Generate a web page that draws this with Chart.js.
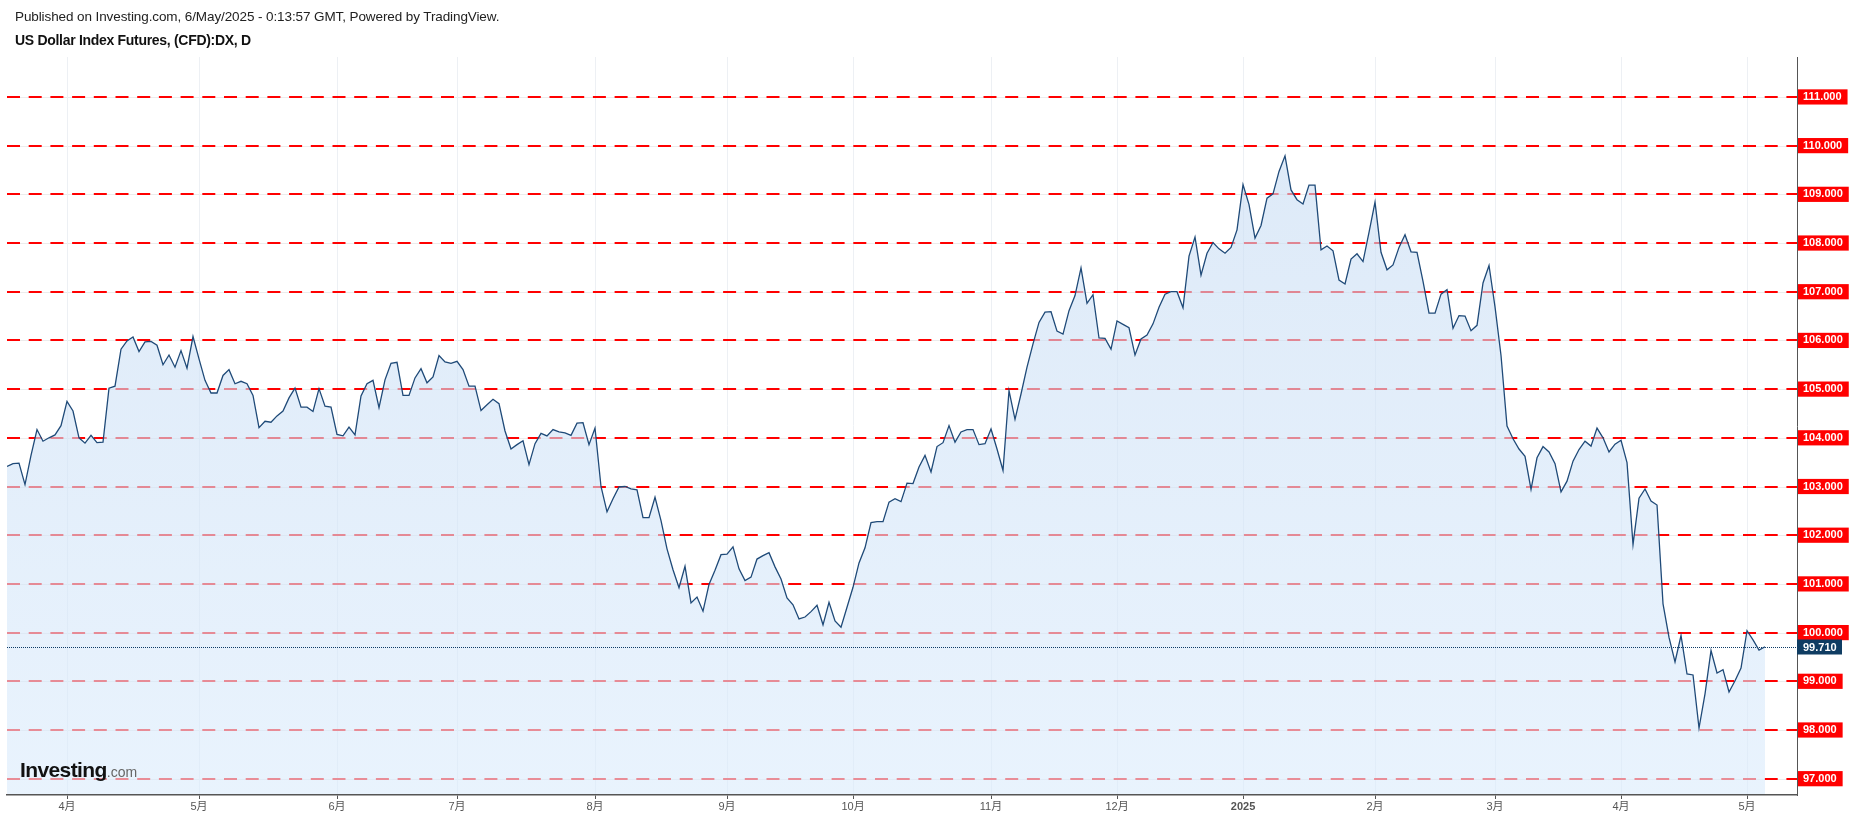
<!DOCTYPE html>
<html lang="ja">
<head>
<meta charset="UTF-8">
<title>US Dollar Index Futures, (CFD):DX, D</title>
<script src="https://cdn.jsdelivr.net/npm/chart.js"></script>
<style>
  html, body { margin: 0; padding: 0; background: #fff; }
  #wrap { position: relative; width: 1855px; height: 819px; overflow: hidden; }
  #wrap canvas { position: absolute; left: 0; top: 0; }
  .pub { position: absolute; left: 15px; top: 9px; font: 13.5px "Liberation Sans", Arial, sans-serif; letter-spacing: -0.1px; color: #222; white-space: nowrap; }
  .ttl { position: absolute; left: 15px; top: 32px; font: bold 14px "Liberation Sans", Arial, sans-serif; letter-spacing: -0.3px; color: #111; white-space: nowrap; }
  .logo { position: absolute; left: 20px; top: 758px; font: bold 21px "Liberation Sans", Arial, sans-serif; color: #111; letter-spacing: -0.6px; white-space: nowrap; }
  .logo span { font-weight: normal; font-size: 14px; color: #666; letter-spacing: 0; }
</style>
</head>
<body>
<div id="wrap">
  <canvas id="dxChart" width="1855" height="819"></canvas>
  <div class="pub">Published on Investing.com, 6/May/2025 - 0:13:57 GMT, Powered by TradingView.</div>
  <div class="ttl">US Dollar Index Futures, (CFD):DX, D</div>
  <div class="logo">Investing<span>.com</span></div>
</div>
<script>
// month labels and the bar index where each month starts
const monthLabels = ['4月','5月','6月','7月','8月','9月','10月','11月','12月','2025','2月','3月','4月','5月'];
const monthStart = [10, 32, 55, 75, 98, 120, 141, 164, 185, 206, 228, 248, 269, 290];
const yTicks = [97, 98, 99, 100, 101, 102, 103, 104, 105, 106, 107, 108, 109, 110, 111];
const lastPrice = 99.71;

// daily closes, mid-March 2024 .. 6 May 2025
const closes = [
  103.41,103.47,103.48,103.04,103.64,104.17,103.93,104.00,104.06,104.25,
  // Apr
  104.75,104.55,104.00,103.89,104.05,103.90,103.91,105.02,105.06,105.82,105.99,106.07,105.77,105.97,105.98,105.90,105.50,105.70,105.45,105.79,105.43,106.08,
  // May
  105.62,105.18,104.92,104.92,105.28,105.40,105.11,105.16,105.11,104.87,104.21,104.34,104.32,104.45,104.55,104.82,105.02,104.63,104.63,104.54,105.01,104.65,104.63,
  // Jun
  104.07,104.04,104.22,104.06,104.86,105.11,105.18,104.62,105.19,105.53,105.55,104.87,104.87,105.23,105.42,105.13,105.25,105.69,105.56,105.53,
  // Jul
  105.57,105.40,105.06,105.06,104.56,104.68,104.79,104.70,104.14,103.77,103.86,103.94,103.45,103.88,104.09,104.04,104.17,104.12,104.10,104.05,104.30,104.31,103.86,
  // Aug
  104.20,103.00,102.48,102.75,102.99,103.00,102.95,102.93,102.36,102.36,102.78,102.30,101.72,101.29,100.92,101.36,100.61,100.73,100.44,100.99,101.28,101.60,
  // Sep
  101.61,101.76,101.31,101.07,101.14,101.51,101.58,101.64,101.35,101.10,100.71,100.57,100.28,100.32,100.43,100.56,100.16,100.62,100.24,100.11,100.52,
  // Oct
  100.93,101.43,101.74,102.26,102.28,102.28,102.68,102.75,102.69,103.07,103.06,103.40,103.64,103.30,103.82,103.90,104.25,103.91,104.12,104.17,104.17,103.86,103.88,
  // Nov
  104.18,103.77,103.33,104.97,104.38,104.90,105.45,105.93,106.37,106.58,106.59,106.19,106.13,106.61,106.92,107.49,106.76,106.94,106.05,106.04,105.82,
  // Dec
  106.40,106.33,106.26,105.70,106.03,106.11,106.34,106.68,106.95,107.00,107.00,106.67,107.73,108.12,107.34,107.79,108.01,107.88,107.79,107.91,108.27,
  // Jan 2025
  109.20,108.79,108.10,108.36,108.92,109.01,109.47,109.79,109.09,108.89,108.80,109.19,109.19,107.86,107.94,107.84,107.24,107.16,107.67,107.78,107.62,108.22,
  // Feb
  108.84,107.81,107.45,107.55,107.91,108.17,107.82,107.81,107.21,106.56,106.56,106.95,107.04,106.25,106.51,106.50,106.20,106.31,107.18,107.54,
  // Mar
  106.69,105.69,104.24,103.98,103.77,103.62,102.94,103.59,103.82,103.71,103.47,102.89,103.11,103.52,103.76,103.93,103.83,104.20,104.00,103.71,103.87,
  // Apr
  103.95,103.49,101.81,102.76,102.95,102.70,102.62,100.59,99.90,99.40,99.94,99.15,99.13,98.04,98.74,99.63,99.17,99.24,98.78,99.01,99.27,
  // May
  100.04,99.85,99.64,99.71
];

Chart.defaults.font.family = '"Liberation Sans", Arial, "Noto Sans CJK SC", sans-serif';

// faint solid lines behind the red dashes
const softLines = {
  id: 'softLines',
  beforeDraw(chart) {
    const {ctx, chartArea: a, scales: {y}} = chart;
    ctx.save();
    ctx.strokeStyle = '#ececec';
    ctx.lineWidth = 1;
    yTicks.forEach(v => {
      const p = Math.round(y.getPixelForValue(v)) + 0.5;
      ctx.beginPath(); ctx.moveTo(a.left, p); ctx.lineTo(a.right, p); ctx.stroke();
    });
    ctx.restore();
  }
};

// last price line + label
const lastMark = {
  id: 'lastMark',
  afterDraw(chart) {
    const {ctx, chartArea: a, scales: {y}} = chart;
    const p = Math.round(y.getPixelForValue(lastPrice)) + 0.5;
    ctx.save();
    ctx.strokeStyle = '#0d3b66';
    ctx.lineWidth = 1;
    ctx.setLineDash([1, 1]);
    ctx.beginPath(); ctx.moveTo(a.left, p); ctx.lineTo(a.right, p); ctx.stroke();
    ctx.setLineDash([]);
    ctx.fillStyle = '#0f3c62';
    ctx.fillRect(a.right, p - 8, 45, 15);
    ctx.fillStyle = '#fff';
    ctx.font = 'bold 11px "Liberation Sans", Arial';
    ctx.textBaseline = 'middle';
    ctx.fillText(lastPrice.toFixed(3), a.right + 6, p);
    ctx.restore();
  }
};

new Chart('dxChart', {
  type: 'line',
  data: {
    datasets: [{
      data: closes.map((v, i) => ({x: i, y: v})),
      borderColor: '#1f4a78',
      borderWidth: 1.3,
      pointRadius: 0,
      tension: 0,
      fill: 'start',
      backgroundColor: ctx => {
        const area = ctx.chart.chartArea;
        if (!area) return 'rgba(205,225,246,0.6)';
        const g = ctx.chart.ctx.createLinearGradient(0, area.top, 0, area.bottom);
        g.addColorStop(0, 'rgba(197,218,242,0.6)');
        g.addColorStop(1, 'rgba(218,235,252,0.6)');
        return g;
      }
    }]
  },
  options: {
    responsive: false,
    animation: false,
    devicePixelRatio: 1,
    layout: { padding: { top: 57, left: 7, right: 0, bottom: 0 } },
    plugins: { legend: { display: false }, tooltip: { enabled: false } },
    scales: {
      x: {
        type: 'linear',
        min: 0,
        max: 298.33,
        afterBuildTicks: s => { s.ticks = monthStart.map(v => ({value: v})); },
        afterFit: s => { s.height = 24; },
        ticks: {
          autoSkip: false,
          maxRotation: 0,
          padding: 1,
          color: '#555',
          font: c => ({ size: 11, weight: monthLabels[c.index] === '2025' ? 'bold' : 'normal' }),
          callback: (v, i) => monthLabels[i]
        },
        grid: { color: '#edf0f4', lineWidth: 1, tickLength: 4, tickColor: '#555' },
        border: { color: '#555', width: 1.5, z: 1 }
      },
      y: {
        position: 'right',
        min: 96.665,
        max: 111.82,
        afterBuildTicks: s => { s.ticks = yTicks.map(v => ({value: v})); },
        afterFit: s => { s.width = 58; },
        ticks: {
          padding: 6,
          color: '#fff',
          font: { size: 11, weight: 'bold' },
          callback: v => v.toFixed(3),
          showLabelBackdrop: true,
          backdropColor: '#ff0000',
          backdropPadding: { left: 6, right: 6, top: 1, bottom: 1 }
        },
        grid: { color: '#ff0000', lineWidth: 2, drawTicks: false, tickLength: 0 },
        border: { color: '#555', width: 1, z: 1, dash: [13, 8.7] }
      }
    }
  },
  plugins: [softLines, lastMark]
});
</script>
</body>
</html>
